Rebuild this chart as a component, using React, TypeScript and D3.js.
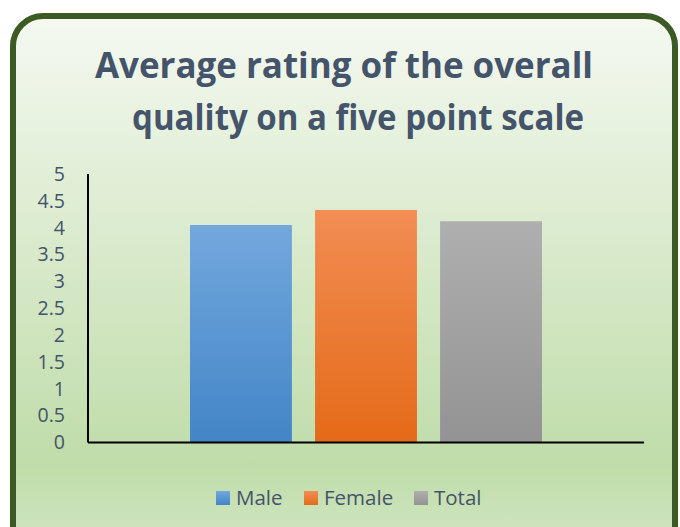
import React from "react";
import * as d3 from "d3";

const categories = ["Male", "Female", "Total"];
const values = [4.05, 4.33, 4.12];
const yTicks = [0, 0.5, 1, 1.5, 2, 2.5, 3, 3.5, 4, 4.5, 5];
const colorsTop = ["#72a8dd", "#f28d54", "#afafaf"];
const colorsBottom = ["#4385c7", "#e46a18", "#939393"];
const titleLines = ["Average rating of the overall", "quality on a five point scale"];

export default function App() {
  const W = 680, H = 527;
  const left = 88, right = 644, top = 174, bottom = 442.5;
  const y = d3.scaleLinear().domain([0, 5]).range([bottom, top]);
  const xCat = d3.scaleBand().domain(["all"]).range([left, right]).paddingInner(0).paddingOuter(0);
  const groupPad = 102;
  const xs = d3.scaleBand().domain(categories).range([xCat("all")! + groupPad, xCat("all")! + xCat.bandwidth() - groupPad]).paddingInner(0.185).paddingOuter(0);
  const textColor = "#44546a";
  const font = "'Open Sans', 'Noto Sans', sans-serif";
  const legendX = [216, 304, 414];
  const titleX = [344, 358];
  const titleW = [498, 452];
  return (
    <svg width={W} height={H} style={{ position: "absolute", left: 0, top: 0 }}>
      <defs>
        <linearGradient id="bg" x1="0" y1="0" x2="0" y2="1">
          <stop offset="0" stopColor="#f5f9f1" />
          <stop offset="0.83" stopColor="#bfdca9" />
          <stop offset="1" stopColor="#d3e7c5" />
        </linearGradient>
        {categories.map((c, i) => (
          <linearGradient key={c} id={"g" + i} x1="0" y1="0" x2="0" y2="1">
            <stop offset="0" stopColor={colorsTop[i]} />
            <stop offset="1" stopColor={colorsBottom[i]} />
          </linearGradient>
        ))}
      </defs>
      <rect x={0} y={0} width={W} height={H} fill="#ffffff" />
      <rect x={13} y={16} width={662} height={540} rx={30} ry={30} fill="url(#bg)" stroke="#3b5a24" strokeWidth={6} />
      {titleLines.map((t, i) => (
        <text key={i} x={titleX[i]} y={78 + i * 52} textAnchor="middle" fontFamily={font} fontWeight={700} fontSize={36} fill={textColor} textLength={titleW[i]} lengthAdjust="spacingAndGlyphs">
          {t}
        </text>
      ))}
      {yTicks.map((t) => (
        <text key={t} x={65} y={y(t)} dy="0.35em" textAnchor="end" fontFamily={font} fontSize={19.5} fill={textColor}>
          {t}
        </text>
      ))}
      {categories.map((c, i) => (
        <rect key={c} x={xs(c)} y={y(values[i])} width={xs.bandwidth()} height={bottom - y(values[i])} fill={`url(#g${i})`} />
      ))}
      <line x1={left} x2={left} y1={top} y2={bottom} stroke="#000" strokeWidth={2} />
      <line x1={left} x2={right} y1={bottom} y2={bottom} stroke="#000" strokeWidth={2} />
      {categories.map((c, i) => (
        <g key={c}>
          <rect x={legendX[i]} y={491} width={14} height={14} fill={`url(#g${i})`} />
          <text x={legendX[i] + 20} y={498} dy="0.35em" fontFamily={font} fontSize={20.5} fill={textColor}>
            {c}
          </text>
        </g>
      ))}
    </svg>
  );
}
